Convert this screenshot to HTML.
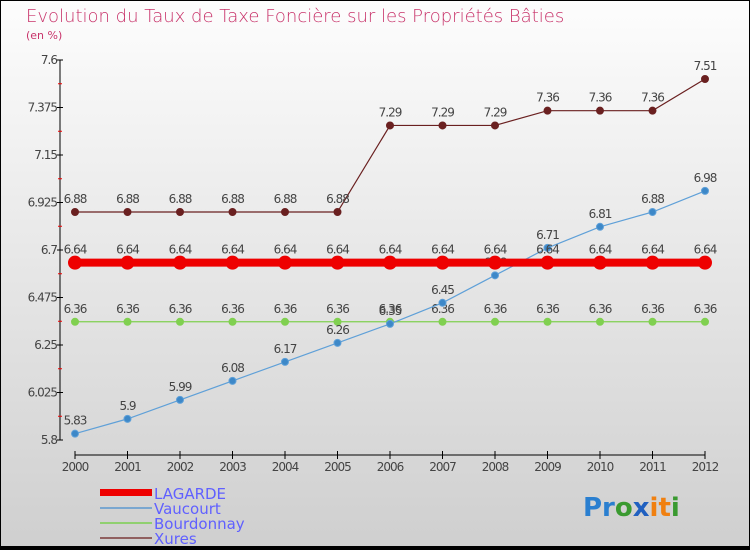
<!DOCTYPE html>
<html><head><meta charset="utf-8"><style>
body{margin:0;width:750px;height:550px;overflow:hidden;font-family:"DejaVu Sans","Liberation Sans",sans-serif}
</style></head><body>
<svg width="750" height="550" xmlns="http://www.w3.org/2000/svg" id="svg">
<defs><linearGradient id="bg" x1="0" y1="0" x2="0" y2="1"><stop offset="0" stop-color="#fdfdfd"/><stop offset="1" stop-color="#cfcfcf"/></linearGradient></defs>
<rect x="0.5" y="0.5" width="749" height="549" fill="url(#bg)" stroke="#000" stroke-width="1"/>
<rect x="0" y="546" width="750" height="4" fill="#000"/>
<text x="26" y="22" font-size="18" fill="#c8336a" font-weight="300">Evolution du Taux de Taxe Foncière sur les Propriétés Bâties</text>
<text x="26" y="39" font-size="11" fill="#c8336a">(en %)</text>
<g id="axes"></g><g id="plot"></g>
<g font-size="15" fill="#6060ff">
<rect x="100" y="489" width="52" height="7" fill="#e00"/><text x="154" y="499" fill="#6060ff">LAGARDE</text>
<rect x="100" y="507" width="52" height="2" fill="#7aa7d0"/><text x="154" y="514" fill="#6060ff">Vaucourt</text>
<rect x="100" y="522" width="52" height="2" fill="#90d070"/><text x="154" y="529" fill="#6060ff">Bourdonnay</text>
<rect x="100" y="537" width="52" height="2" fill="#906060"/><text x="154" y="544" fill="#6060ff">Xures</text>
</g>
<g font-size="26" font-weight="bold">
<text x="583" y="516"><tspan fill="#2a7fd0">Pr</tspan><tspan fill="#3a9a30">o</tspan><tspan fill="#2060c0">x</tspan><tspan fill="#f08010">it</tspan><tspan fill="#3a9a30">i</tspan></text>
</g>
</svg>
<script>
const years=[2000,2001,2002,2003,2004,2005,2006,2007,2008,2009,2010,2011,2012];
const lagarde=[6.64,6.64,6.64,6.64,6.64,6.64,6.64,6.64,6.64,6.64,6.64,6.64,6.64];
const vaucourt=[5.83,5.9,5.99,6.08,6.17,6.26,6.35,6.45,6.58,6.71,6.81,6.88,6.98];
const bourdonnay=[6.36,6.36,6.36,6.36,6.36,6.36,6.36,6.36,6.36,6.36,6.36,6.36,6.36];
const xures=[6.88,6.88,6.88,6.88,6.88,6.88,7.29,7.29,7.29,7.36,7.36,7.36,7.51];
const yTicks=[5.8,6.025,6.25,6.475,6.7,6.925,7.15,7.375,7.6];
const yTickLabels=["5.8","6.025","6.25","6.475","6.7","6.925","7.15","7.375","7.6"];
const NS="http://www.w3.org/2000/svg";
const x=i=>75+i*52.5;
const y=v=>440-(v-5.8)/1.8*380;
function mk(t,a,p){const e=document.createElementNS(NS,t);for(const k in a)e.setAttribute(k,a[k]);p.appendChild(e);return e;}
const ax=document.getElementById('axes'),pl=document.getElementById('plot');
const yl=mk('line',{x1:60,y1:y(7.6),x2:60,y2:y(5.8),stroke:'#000','stroke-width':1},ax);


yTicks.forEach((v,i)=>{
 mk('line',{x1:57,x2:63,y1:y(v),y2:y(v),stroke:'#000'},ax);
 if(i<yTicks.length-1){mk('line',{x1:58,x2:62,y1:y(v+0.1125),y2:y(v+0.1125),stroke:'#e00'},ax);}
 const t=mk('text',{x:57,y:y(v)+4,'font-size':12,'text-anchor':'end',fill:'#444','letter-spacing':'-1'},ax);
 
 
 t.textContent=yTickLabels[i];
});
const xl=mk('line',{x1:x(0),y1:455,x2:x(12),y2:455,stroke:'#000'},ax);


years.forEach((yr,i)=>{
 mk('line',{x1:x(i),x2:x(i),y1:451,y2:459,stroke:'#000'},ax);
 const t=mk('text',{x:x(i),y:471,'font-size':12,'text-anchor':'middle',fill:'#444','letter-spacing':'-1'},ax);
 
 
 t.textContent=yr;
});
function series(name,vals,color,w,r,fill){
 const g=mk('g',{},pl);
 
 
 mk('polyline',{points:vals.map((v,i)=>x(i)+','+y(v)).join(' '),fill:'none',stroke:color,'stroke-width':w},g);
 vals.forEach((v,i)=>{
  const c=mk('circle',{cx:x(i),cy:y(v),r:r,fill:fill,stroke:color,'stroke-width':1},g);
  
  
  const t=mk('text',{x:x(i),y:y(v)-9,'font-size':12,'text-anchor':'middle',fill:'#444','letter-spacing':'-1'},g);
  
  
  t.textContent=v;
 });
}
series('xures',xures,'#6a2020',1.2,3.5,'#6a2020');
series('bourdonnay',bourdonnay,'#80d050',1.2,3.5,'#80d050');
series('vaucourt',vaucourt,'#5fa0d8',1.2,3.5,'#3d88c8');
series('lagarde',lagarde,'#ee0000',8,6.5,'#ee0000');
</script>
</body></html>
